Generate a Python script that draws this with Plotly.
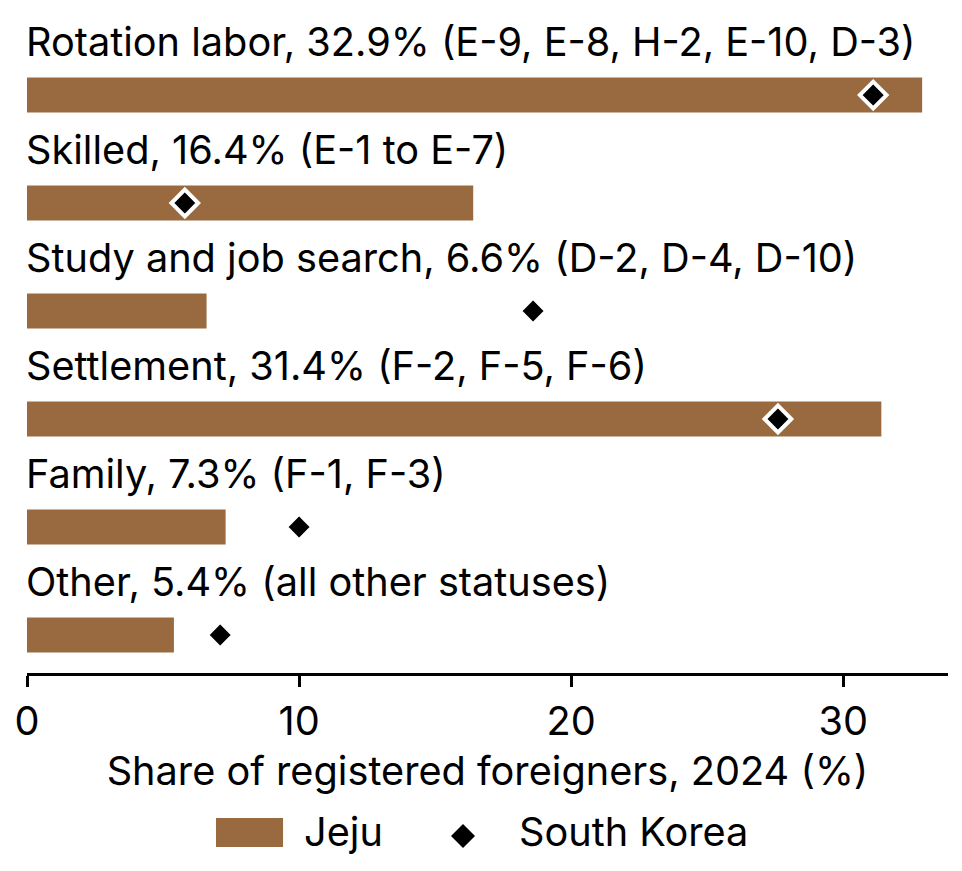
import plotly.graph_objects as go

# dados
categorias = ["Rotation labor", "Skilled", "Study and job search", "Settlement", "Family", "Other"]
vistos = ["(E-9, E-8, H-2, E-10, D-3)", "(E-1 to E-7)", "(D-2, D-4, D-10)",
          "(F-2, F-5, F-6)", "(F-1, F-3)", "(all other statuses)"]
jeju = [32.9, 16.4, 6.6, 31.4, 7.3, 5.4]
coreia = [31.1, 5.8, 18.6, 27.6, 10.0, 7.1]
ticks_x = [0, 10, 20, 30]

cor_barra = "#996a3f"
fonte = "Inter"
tam = 39.7
pos = list(range(len(categorias)))

fig = go.Figure()
fig.add_trace(go.Bar(x=jeju, y=pos, orientation="h", width=0.324,
                     marker=dict(color=cor_barra, line=dict(width=0)), name="Jeju"))
fig.add_trace(go.Scatter(x=coreia, y=pos, mode="markers", name="South Korea",
                         marker=dict(symbol="diamond", size=20.5, color="black",
                                     line=dict(color="white", width=4))))

# rótulos acima das barras
for i, (c, v, val) in enumerate(zip(categorias, vistos, jeju)):
    fig.add_annotation(x=0, y=i, xref="x", yref="y", text=f"{c}, {val}% {v}",
                       showarrow=False, xanchor="left", yanchor="middle", yshift=53, xshift=-3,
                       font=dict(size=tam, color="black", family=fonte))

# legenda manual (retângulo largo como no original)
fig.add_shape(type="rect", xref="paper", yref="paper", x0=0.2052, x1=0.278,
              y0=-0.2617, y1=-0.218, fillcolor=cor_barra, line=dict(width=0))
fig.add_annotation(x=0.3018, y=-0.239, xref="paper", yref="paper", text="Jeju",
                   showarrow=False, xanchor="left", yanchor="middle", xshift=-3,
                   font=dict(size=tam, color="black", family=fonte))
fig.add_shape(type="path", xref="paper", yref="paper", xsizemode="pixel", ysizemode="pixel",
              xanchor=0.4734, yanchor=-0.245, path="M0,12 L12,0 L0,-12 L-12,0 Z",
              fillcolor="black", line=dict(width=0))
fig.add_annotation(x=0.5353, y=-0.239, xref="paper", yref="paper", text="South Korea",
                   showarrow=False, xanchor="left", yanchor="middle", xshift=-3,
                   font=dict(size=tam, color="black", family=fonte))

fig.update_xaxes(range=[0, 33.85], tickvals=ticks_x, showgrid=False, zeroline=False,
                 showline=True, linecolor="black", linewidth=3, ticks="outside",
                 ticklen=11, tickwidth=2.5, tickcolor="black",
                 tickfont=dict(size=tam, family=fonte, color="black"),
                 title=dict(text="Share of registered foreigners, 2024 (%)", standoff=14,
                            font=dict(size=tam, family=fonte, color="black")))
fig.update_yaxes(range=[5.352, -0.806], visible=False, showgrid=False, zeroline=False)

fig.update_layout(width=954, height=863, plot_bgcolor="white", paper_bgcolor="white",
                  margin=dict(l=19, r=14, t=0, b=198), showlegend=False,
                  font=dict(family=fonte))
fig.write_html("out.html")
